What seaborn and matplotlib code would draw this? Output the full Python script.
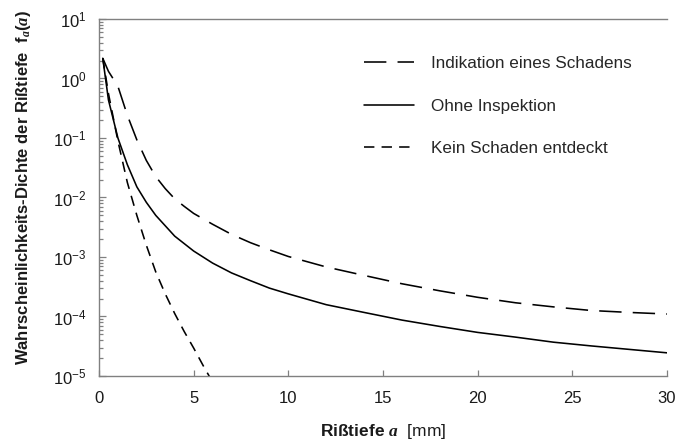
import numpy as np
import pandas as pd
import seaborn as sns
import matplotlib.pyplot as plt
from matplotlib.ticker import LogLocator, NullFormatter

# Rißtiefe a [mm] und Dichte f_a(a)
a_indikation = [0.2, 0.5, 1.0, 1.5, 2.0, 2.5, 3.0, 3.5, 4.0, 4.5, 5.0, 6.0, 7.0, 8.0, 9.0,
                10, 12, 14, 16, 18, 20, 22, 24, 26, 28, 30]
f_indikation = [2.19, 1.32, 0.74, 0.24, 0.093, 0.042, 0.0224, 0.0141, 0.0095, 0.0071, 0.0054,
                0.00355, 0.0024, 0.00174, 0.00132, 0.00102, 6.8e-4, 4.9e-4, 3.55e-4, 2.7e-4,
                2.1e-4, 1.7e-4, 1.45e-4, 1.26e-4, 1.17e-4, 1.1e-4]

a_ohne = [0.2, 0.5, 1.0, 1.5, 2.0, 2.5, 3.0, 4.0, 5.0, 6.0, 7.0, 8.0, 9.0, 10, 12, 14, 16,
          18, 20, 22, 24, 26, 28, 30]
f_ohne = [2.19, 0.437, 0.1, 0.0355, 0.0151, 0.0083, 0.0050, 0.00224, 0.00126, 7.9e-4, 5.4e-4,
          4.0e-4, 3.0e-4, 2.4e-4, 1.58e-4, 1.17e-4, 8.7e-5, 6.8e-5, 5.4e-5, 4.5e-5, 3.7e-5,
          3.2e-5, 2.8e-5, 2.45e-5]

a_kein = [0.2, 0.5, 1.0, 1.5, 2.0, 2.5, 3.0, 3.5, 4.0, 4.5, 5.0, 5.5, 6.0]
f_kein = [2.19, 0.56, 0.089, 0.0178, 0.0050, 0.00158, 5.6e-4, 2.4e-4, 1.12e-4, 5.6e-5,
          2.95e-5, 1.5e-5, 7.9e-6]

namen = ["Indikation eines Schadens", "Ohne Inspektion", "Kein Schaden entdeckt"]

df = pd.concat([
    pd.DataFrame({"a": a_indikation, "f": f_indikation, "Kurve": namen[0]}),
    pd.DataFrame({"a": a_ohne, "f": f_ohne, "Kurve": namen[1]}),
    pd.DataFrame({"a": a_kein, "f": f_kein, "Kurve": namen[2]}),
])

sns.set_style("white")
plt.rcParams['font.family'] = ['Liberation Sans', 'DejaVu Sans']
plt.rcParams['mathtext.fontset'] = 'custom'
plt.rcParams['mathtext.rm'] = 'Liberation Sans'
plt.rcParams['mathtext.bf'] = 'Liberation Sans:bold'
plt.rcParams['mathtext.it'] = 'Liberation Serif:italic:bold'

fig = plt.figure(figsize=(6.77, 4.44), dpi=100)
ax = fig.add_axes([0.1462, 0.1532, 0.839, 0.804])

sns.lineplot(data=df, x="a", y="f", style="Kurve", style_order=namen,
             dashes={namen[0]: (14, 7), namen[1]: "", namen[2]: (6.5, 4.5)},
             color="black", linewidth=1.15, estimator=None, sort=False, ax=ax)

ax.set_yscale("log")
ax.set_xlim(0, 30)
ax.set_ylim(1e-5, 10)
ax.set_xticks([0, 5, 10, 15, 20, 25, 30])
ax.yaxis.set_major_locator(LogLocator(base=10, numticks=10))
ax.yaxis.set_minor_locator(LogLocator(base=10, subs=np.arange(2, 10), numticks=20))
ax.yaxis.set_minor_formatter(NullFormatter())

ax.tick_params(axis="both", which="both", direction="in", color="#808080",
               labelsize=12, labelcolor="#1a1a1a", width=0.9)
ax.tick_params(axis="x", which="major", length=4, pad=11, bottom=True, top=False)
ax.tick_params(axis="y", which="major", length=5, pad=9, left=True, right=False)
ax.tick_params(axis="y", which="minor", length=3, left=True, right=False)

for s in ["left", "bottom", "top"]:
    ax.spines[s].set_color("#808080")
    ax.spines[s].set_linewidth(1.0)
ax.spines["right"].set_visible(False)

ax.set_xlabel(r"Rißtiefe $a$  $\mathrm{[mm]}$", fontsize=12.5, fontweight="bold",
              color="#1a1a1a", labelpad=11)
ax.set_ylabel(r"Wahrscheinlichkeits-Dichte der Rißtiefe  $\mathbf{f}_{a}\mathbf{(}a\mathbf{)}$",
              fontsize=12, fontweight="bold", color="#1a1a1a")
ax.yaxis.set_label_coords(-0.116, 0.527)

handles, labels = ax.get_legend_handles_labels()
ax.legend(handles, labels, frameon=False, loc="upper left", fontsize=12.3,
          handlelength=2.9, handletextpad=1.0, labelspacing=1.6,
          borderpad=0, borderaxespad=0,
          bbox_to_anchor=(0.538, 0.873), bbox_transform=fig.transFigure)

fig.savefig("out.png", dpi=100)
